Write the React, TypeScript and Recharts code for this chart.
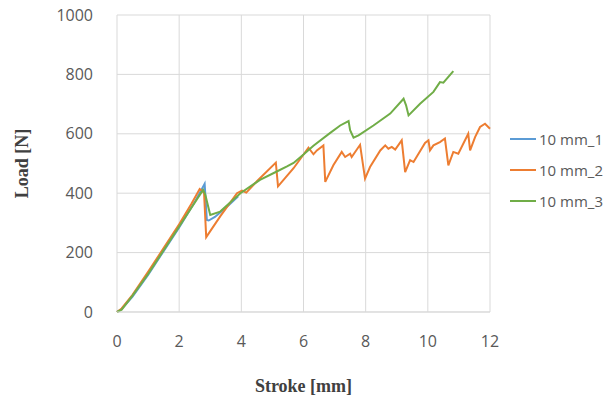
import React from "react";
import { LineChart, Line, XAxis, YAxis, CartesianGrid } from "recharts";

// 10 mm_1 (blue) - mostly hidden under the others after the first drop
const stroke1 = [0, 0.15, 0.5, 1.0, 1.5, 2.0, 2.5, 2.82, 2.89, 2.95, 3.15, 3.32, 3.6, 3.9];
const load1 = [0, 10, 52, 125, 205, 285, 370, 432, 310, 308, 320, 335, 360, 390];

// 10 mm_2 (orange)
const stroke2 = [
  0, 0.15, 0.5, 1.0, 1.5, 2.0, 2.4, 2.66, 2.8, 2.87, 3.32, 3.86, 4.02, 4.16, 4.5, 5.11, 5.18,
  5.68, 6.16, 6.32, 6.43, 6.64, 6.7, 6.96, 7.23, 7.34, 7.5, 7.55, 7.82, 7.98, 8.14, 8.47, 8.63,
  8.73, 8.84, 8.95, 9.16, 9.27, 9.43, 9.54, 9.91, 10.02, 10.07, 10.18, 10.39, 10.55, 10.66,
  10.82, 10.98, 11.3, 11.36, 11.52, 11.68, 11.84, 12.0,
];
const load2 = [
  0, 12, 58, 135, 215, 295, 365, 414, 402, 252, 322, 400, 409, 402, 440, 503, 423,
  484, 553, 531, 544, 561, 438, 494, 539, 522, 533, 522, 563, 449, 488, 544, 561,
  550, 556, 547, 578, 471, 511, 505, 569, 578, 544, 561, 572, 584, 494,
  539, 533, 600, 544, 589, 623, 634, 617,
];

// 10 mm_3 (green)
const stroke3 = [
  0, 0.15, 0.5, 1.0, 1.5, 2.0, 2.5, 2.77, 2.84, 3.0, 3.32, 3.97, 4.6, 5.14, 5.47, 5.68, 6.0,
  6.32, 6.86, 7.18, 7.45, 7.5, 7.61, 7.77, 8.25, 8.79, 9.22, 9.3, 9.38, 9.75, 10.18, 10.39,
  10.5, 10.82,
];
const load3 = [
  0, 8, 55, 128, 208, 288, 368, 411, 395, 327, 338, 400, 445, 473, 490, 502, 530,
  560, 603, 628, 643, 612, 587, 595, 628, 668, 718, 696, 662, 701, 741, 774,
  772, 811,
];

const xTicks = [0, 2, 4, 6, 8, 10, 12];
const yTicks = [0, 200, 400, 600, 800, 1000];

const seriesNames = ["10 mm_1", "10 mm_2", "10 mm_3"];
const seriesColors = ["#5B9BD5", "#ED7D31", "#70AD47"];

const toPoints = (xs: number[], ys: number[]) => xs.map((x, i) => ({ x, y: ys[i] }));

const series = [
  toPoints(stroke1, load1),
  toPoints(stroke2, load2),
  toPoints(stroke3, load3),
];

const tickFont = { fontFamily: "Open Sans", fontSize: 16, fill: "#595959" };
const titleFont = { fontFamily: "Liberation Serif", fontSize: 18, fontWeight: 700, fill: "#404040" };

function LegendBox() {
  return (
    <div style={{ position: "absolute", left: 510, top: 123 }}>
      {seriesNames.map((name, i) => (
        <div key={name} style={{ display: "flex", alignItems: "center", height: 31 }}>
          <div style={{ width: 26, height: 2, background: seriesColors[i], marginRight: 3 }} />
          <span style={{ fontFamily: "Open Sans", fontSize: 15, color: "#595959" }}>{name}</span>
        </div>
      ))}
    </div>
  );
}

export default function App() {
  return (
    <div style={{ position: "absolute", left: 0, top: 0, width: 612, height: 400, background: "#fff" }}>
      <LineChart width={612} height={400} margin={{ top: 15, right: 122, bottom: 28, left: 57 }}>
        <CartesianGrid stroke="#d9d9d9" strokeWidth={1} />
        <XAxis
          type="number"
          dataKey="x"
          domain={[0, 12]}
          ticks={xTicks}
          tick={tickFont}
          tickLine={false}
          axisLine={{ stroke: "#d9d9d9" }}
          tickMargin={18}
          height={60}
          label={{ value: "Stroke [mm]", position: "insideBottom", offset: -20, style: titleFont }}
        />
        <YAxis
          type="number"
          dataKey="y"
          domain={[0, 1000]}
          ticks={yTicks}
          tick={tickFont}
          tickLine={false}
          axisLine={false}
          tickMargin={18}
          width={60}
          label={{ value: "Load [N]", angle: -90, position: "insideLeft", offset: -35, style: { ...titleFont, textAnchor: "middle" } }}
        />
        {series.map((pts, i) => (
          <Line
            key={seriesNames[i]}
            data={pts}
            dataKey="y"
            name={seriesNames[i]}
            type="linear"
            stroke={seriesColors[i]}
            strokeWidth={2}
            dot={false}
            isAnimationActive={false}
          />
        ))}
      </LineChart>
      <LegendBox />
    </div>
  );
}
